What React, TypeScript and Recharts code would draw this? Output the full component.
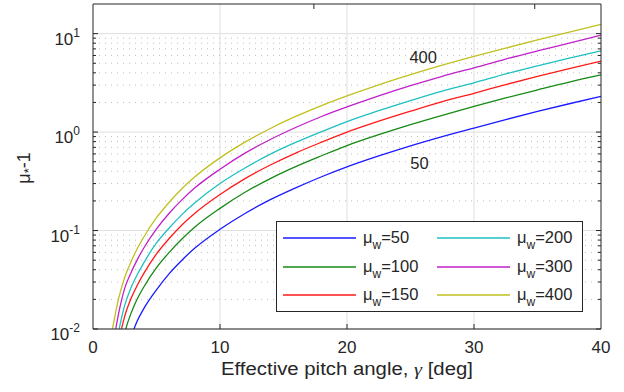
import React from "react";
import {
  LineChart,
  Line,
  XAxis,
  YAxis,
  CartesianGrid,
  Legend,
  ReferenceDot,
  Label,
} from "recharts";

const FONT = '"Liberation Sans", Arial, Helvetica, sans-serif';
const INK = "#262626";

// effective pitch angle, deg
const gammaDeg = [1.5, 2, 2.5, 3, 3.5, 4, 5, 6, 7, 8, 10, 12, 14, 16, 18, 20, 22.5, 25, 27.5, 30, 32.5, 35, 37.5, 40];

// mu_* - 1 for each mu_w
const mu50 = [0.0013, 0.0025, 0.0045, 0.0082, 0.0122, 0.0161, 0.025, 0.0365, 0.05, 0.066, 0.103, 0.15, 0.207, 0.273, 0.352, 0.443, 0.572, 0.725, 0.9, 1.1, 1.34, 1.62, 1.94, 2.3];
const mu100 = [0.0018, 0.0045, 0.0092, 0.0145, 0.0204, 0.0267, 0.042, 0.06, 0.082, 0.108, 0.168, 0.246, 0.339, 0.448, 0.575, 0.73, 0.94, 1.19, 1.48, 1.82, 2.22, 2.68, 3.22, 3.81];
const mu150 = [0.0032, 0.0072, 0.0135, 0.0205, 0.028, 0.0367, 0.058, 0.083, 0.114, 0.149, 0.232, 0.339, 0.466, 0.616, 0.79, 1.0, 1.29, 1.63, 2.04, 2.48, 3.04, 3.68, 4.42, 5.25];
const mu200 = [0.004, 0.0092, 0.0175, 0.0264, 0.036, 0.047, 0.075, 0.106, 0.145, 0.19, 0.3, 0.434, 0.6, 0.79, 1.01, 1.28, 1.65, 2.09, 2.61, 3.16, 3.9, 4.71, 5.65, 6.7];
const mu300 = [0.006, 0.014, 0.026, 0.0374, 0.051, 0.0665, 0.104, 0.15, 0.205, 0.27, 0.42, 0.615, 0.846, 1.12, 1.44, 1.8, 2.33, 2.96, 3.69, 4.5, 5.52, 6.67, 8.0, 9.65];
const mu400 = [0.0095, 0.02, 0.0336, 0.0484, 0.066, 0.086, 0.135, 0.194, 0.266, 0.349, 0.547, 0.795, 1.095, 1.45, 1.86, 2.33, 3.02, 3.83, 4.78, 5.87, 7.14, 8.63, 10.37, 12.4];

const seriesKeys = ["mu50", "mu100", "mu150", "mu200", "mu300", "mu400"];
const seriesLabels = ["50", "100", "150", "200", "300", "400"];
const seriesColors = ["#1a1aff", "#158a15", "#ff1a1a", "#1ec0c0", "#c020c8", "#c0c020"];

const xTicks = [0, 10, 20, 30, 40];
const yMajor = [0.01, 0.1, 1, 10];
const yMinor = [
  0.02, 0.03, 0.04, 0.05, 0.06, 0.07, 0.08, 0.09,
  0.2, 0.3, 0.4, 0.5, 0.6, 0.7, 0.8, 0.9,
  2, 3, 4, 5, 6, 7, 8, 9,
];

// curve annotations
const noteX = [26, 25.7];
const noteY = [5.8, 0.49];
const noteText = ["400", "50"];

const data = gammaDeg.map((g, i) => ({
  g,
  mu50: mu50[i],
  mu100: mu100[i],
  mu150: mu150[i],
  mu200: mu200[i],
  mu300: mu300[i],
  mu400: mu400[i],
}));

const YTick = (props: any) => {
  const { x, y, payload, side } = props;
  const v = payload.value;
  const major = yMajor.includes(v);
  const len = major ? 5 : 3;
  const dir = side === "left" ? 1 : -1;
  const exp = Math.round(Math.log10(v));
  return (
    <g>
      <line x1={x} y1={y} x2={x + dir * len} y2={y} stroke={INK} strokeWidth={1} />
      {side === "left" && major && (
        <text x={x - 13} y={y + 11} textAnchor="end" fill={INK} fontSize={17} fontFamily={FONT}>
          10
          <tspan dy={-8} fontSize={12}>
            {exp}
          </tspan>
        </text>
      )}
    </g>
  );
};

const XTick = (props: any) => {
  const { x, y, payload, side } = props;
  const v = payload.value;
  const inner = v > 0 && v < 40;
  const dir = side === "bottom" ? -1 : 1;
  return (
    <g>
      {inner && <line x1={x} y1={y} x2={x} y2={y + dir * 5} stroke={INK} strokeWidth={1} />}
      {side === "bottom" && (
        <text x={x} y={y + 24} textAnchor="middle" fill={INK} fontSize={17} fontFamily={FONT}>
          {v}
        </text>
      )}
    </g>
  );
};

const LegendBox = () => {
  const rows = [17, 46, 74];
  const cols = [7, 161];
  return (
    <svg width={307} height={91} style={{ display: "block" }}>
      <rect x={0.5} y={0.5} width={306} height={90} fill="#fff" stroke={INK} strokeWidth={1} />
      {seriesKeys.map((k, i) => {
        const cx = cols[Math.floor(i / 3)];
        const cy = rows[i % 3];
        return (
          <g key={k}>
            <line x1={cx} y1={cy} x2={cx + 73} y2={cy} stroke={seriesColors[i]} strokeWidth={1.3} />
            <text x={cx + 80} y={cy + 5} fill={INK} fontSize={16.5} fontFamily={FONT}>
              μ
              <tspan fontSize={12} dy={6}>
                w
              </tspan>
              <tspan dy={-6}>={seriesLabels[i]}</tspan>
            </text>
          </g>
        );
      })}
    </svg>
  );
};

export default function App() {
  return (
    <div style={{ position: "absolute", left: 0, top: 0, background: "#fff" }}>
      <LineChart width={624} height={392} data={data} margin={{ top: 3, right: 22, bottom: 0, left: 0 }}>
        <CartesianGrid horizontalValues={yMajor} verticalValues={[10, 20, 30]} stroke="#dfdfdf" />
        <CartesianGrid horizontalValues={yMinor} vertical={false} stroke="#bdbdbd" strokeDasharray="1 5" />
        <XAxis
          dataKey="g"
          type="number"
          domain={[0, 40]}
          ticks={xTicks}
          interval={0}
          height={63}
          tickSize={0}
          tickMargin={0}
          tickLine={false}
          axisLine={{ stroke: INK }}
          tick={<XTick side="bottom" />}
        >
          <Label
            content={() => (
              <text
                x={347}
                y={375}
                textAnchor="middle"
                fill={INK}
                fontSize={17.5}
                fontFamily={FONT}
                textLength={252}
                lengthAdjust="spacingAndGlyphs"
              >
                Effective pitch angle,{" "}
                <tspan fontFamily='"Liberation Serif", serif' fontStyle="italic">
                  γ
                </tspan>{" "}
                [deg]
              </text>
            )}
          />
        </XAxis>
        <XAxis
          xAxisId="top"
          orientation="top"
          type="number"
          domain={[0, 40]}
          ticks={xTicks}
          interval={0}
          height={1}
          tickSize={0}
          tickMargin={0}
          tickLine={false}
          axisLine={{ stroke: INK }}
          tick={<XTick side="top" />}
        />
        <YAxis
          type="number"
          scale="log"
          domain={[0.01, 20]}
          allowDataOverflow
          ticks={[...yMajor, ...yMinor]}
          interval={0}
          width={93}
          tickSize={0}
          tickMargin={0}
          tickLine={false}
          axisLine={{ stroke: INK }}
          tick={<YTick side="left" />}
        >
          <Label
            content={() => (
              <text
                transform="translate(30,168) rotate(-90)"
                textAnchor="middle"
                fill={INK}
                fontSize={18}
                fontFamily={FONT}
              >
                μ
                <tspan fontSize={13} dy={3}>
                  *
                </tspan>
                <tspan dy={-3}>-1</tspan>
              </text>
            )}
          />
        </YAxis>
        <YAxis
          yAxisId="right"
          orientation="right"
          type="number"
          scale="log"
          domain={[0.01, 20]}
          allowDataOverflow
          ticks={[...yMajor, ...yMinor]}
          interval={0}
          width={1}
          tickSize={0}
          tickMargin={0}
          tickLine={false}
          axisLine={{ stroke: INK }}
          tick={<YTick side="right" />}
        />
        {seriesKeys.map((k, i) => (
          <Line
            key={k}
            dataKey={k}
            name={`μw=${seriesLabels[i]}`}
            type="monotone"
            stroke={seriesColors[i]}
            strokeWidth={1.3}
            dot={false}
            activeDot={false}
            isAnimationActive={false}
          />
        ))}
        {noteText.map((t, i) => (
          <ReferenceDot
            key={t}
            x={noteX[i]}
            y={noteY[i]}
            r={0}
            shape={(p: any) => (
              <text x={p.cx} y={p.cy + 6} textAnchor="middle" fill={INK} fontSize={16.5} fontFamily={FONT}>
                {t}
              </text>
            )}
          />
        ))}
        <Legend
          layout="horizontal"
          verticalAlign="middle"
          align="center"
          content={() => <LegendBox />}
          wrapperStyle={{ left: 276, top: 221, width: 307, height: 91 }}
        />
      </LineChart>
    </div>
  );
}
